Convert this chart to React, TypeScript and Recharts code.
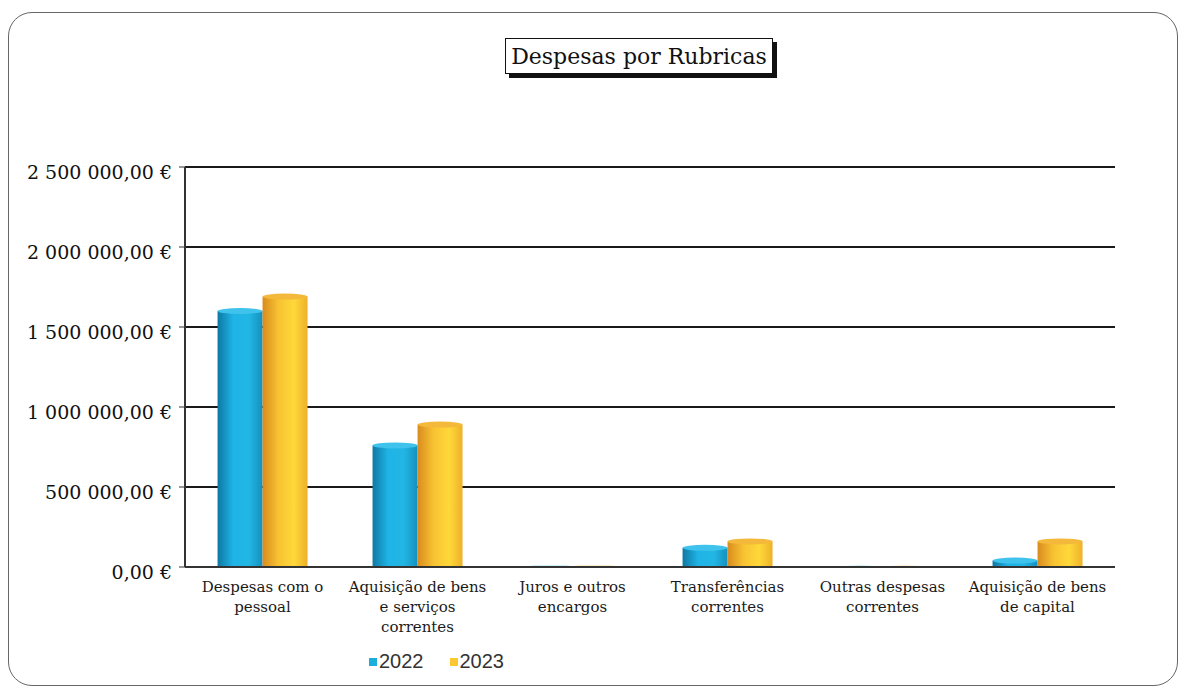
import React from "react";
import { BarChart, Bar, XAxis, YAxis, CartesianGrid } from "recharts";

const categories = [
  "Despesas com o\npessoal",
  "Aquisição de bens\ne serviços\ncorrentes",
  "Juros e outros\nencargos",
  "Transferências\ncorrentes",
  "Outras despesas\ncorrentes",
  "Aquisição de bens\nde capital",
];
const values2022 = [1600000, 760000, 5000, 120000, 4000, 40000];
const values2023 = [1690000, 890000, 5000, 160000, 4000, 160000];
const yTicks = [0, 500000, 1000000, 1500000, 2000000, 2500000];
const seriesNames = ["2022", "2023"];
const seriesColors = ["#1AAEDC", "#F9C833"];

const data = categories.map((c, i) => ({
  name: c,
  v2022: values2022[i],
  v2023: values2023[i],
}));

const fmt = (v: number) => {
  const s = v.toFixed(2).replace(".", ",");
  const [int, dec] = s.split(",");
  const withSp = int.replace(/\B(?=(\d{3})+(?!\d))/g, " ");
  return `${withSp},${dec} €`;
};

const CylShape = (props: any) => {
  const { x, y, width, height, fill, topFill } = props;
  if (height == null || width == null) return null;
  const ry = Math.min(3, Math.max(height / 2, 0.5));
  return (
    <g>
      <rect x={x} y={y} width={width} height={Math.max(height, 1.5)} fill={fill} />
      <ellipse cx={x + width / 2} cy={y} rx={width / 2} ry={ry} fill={topFill} />
    </g>
  );
};

const XTick = (props: any) => {
  const { x, y, payload } = props;
  const lines = String(payload.value).split("\n");
  return (
    <text
      x={x}
      y={y}
      textAnchor="middle"
      fontFamily="'DejaVu Serif', serif"
      fontSize={15}
      fill="#1a1a1a"
    >
      {lines.map((l, i) => (
        <tspan key={i} x={x} dy={i === 0 ? 17 : 20}>
          {l}
        </tspan>
      ))}
    </text>
  );
};

const YTick = (props: any) => {
  const { x, y, payload } = props;
  return (
    <text
      x={x}
      y={y + 12}
      textAnchor="end"
      fontFamily="'DejaVu Serif', serif"
      fontSize={19}
      fill="#111"
    >
      {fmt(payload.value)}
    </text>
  );
};

export default function App() {
  return (
    <div style={{ position: "absolute", left: 0, top: 0, width: 1185, height: 690, background: "#fff" }}>
      <div
        style={{
          position: "absolute",
          left: 8,
          top: 12,
          width: 1170,
          height: 674,
          border: "1.5px solid #666",
          borderRadius: 24,
          boxSizing: "border-box",
        }}
      />
      <div
        style={{
          position: "absolute",
          left: 505,
          top: 38,
          width: 268,
          height: 36,
          border: "1.5px solid #111",
          boxShadow: "4px 4px 0 #111",
          background: "#fff",
          fontFamily: "'DejaVu Serif', serif",
          fontSize: 22,
          color: "#111",
          display: "flex",
          alignItems: "center",
          justifyContent: "center",
          boxSizing: "border-box",
        }}
      >
        Despesas por Rubricas
      </div>
      <div style={{ position: "absolute", left: 0, top: 0 }}>
        <BarChart
          width={1185}
          height={690}
          data={data}
          margin={{ top: 167, right: 70, bottom: 0, left: 0 }}
          barCategoryGap="21%"
          barGap={0}
        >
          <defs>
            <linearGradient id="gBlue" x1="0" y1="0" x2="1" y2="0">
              <stop offset="0%" stopColor="#0E78A3" />
              <stop offset="35%" stopColor="#1FB4E6" />
              <stop offset="70%" stopColor="#22B6E4" />
              <stop offset="100%" stopColor="#1590BE" />
            </linearGradient>
            <linearGradient id="gYellow" x1="0" y1="0" x2="1" y2="0">
              <stop offset="0%" stopColor="#D98B1E" />
              <stop offset="35%" stopColor="#F7C232" />
              <stop offset="70%" stopColor="#FFD83A" />
              <stop offset="100%" stopColor="#EDB12A" />
            </linearGradient>
          </defs>
          <CartesianGrid yAxisId="l" vertical={false} stroke="#1a1a1a" strokeWidth={2} />
          <XAxis
            dataKey="name"
            tick={<XTick />}
            tickLine={false}
            axisLine={{ stroke: "#333", strokeWidth: 2 }}
            interval={0}
            height={123}
          />
          <YAxis
            yAxisId="l"
            domain={[0, 2500000]}
            ticks={yTicks}
            tick={<YTick />}
            tickSize={6}
            tickMargin={7}
            axisLine={{ stroke: "#333", strokeWidth: 2 }}
            tickLine={{ stroke: "#333" }}
            width={185}
          />
          <YAxis
            yAxisId="r"
            orientation="right"
            domain={[0, 2500000]}
            tick={false}
            tickLine={false}
            axisLine={{ stroke: "#333", strokeWidth: 2 }}
            width={0}
          />
          <Bar
            yAxisId="l"
            dataKey="v2022"
            name={seriesNames[0]}
            fill="url(#gBlue)"
            isAnimationActive={false}
            shape={(p: any) => <CylShape {...p} fill="url(#gBlue)" topFill="#3FC3EC" />}
          />
          <Bar
            yAxisId="l"
            dataKey="v2023"
            name={seriesNames[1]}
            fill="url(#gYellow)"
            isAnimationActive={false}
            shape={(p: any) => <CylShape {...p} fill="url(#gYellow)" topFill="#F4B83A" />}
          />
        </BarChart>
      </div>
      <div
        style={{
          position: "absolute",
          left: 369,
          top: 650,
          display: "flex",
          gap: 26,
          fontFamily: "'Liberation Sans', Arial, sans-serif",
          fontSize: 20,
          color: "#333",
        }}
      >
        {seriesNames.map((n, i) => (
          <span key={n} style={{ display: "flex", alignItems: "center" }}>
            <span style={{ width: 8, height: 8, background: seriesColors[i], marginRight: 2, display: "inline-block" }} />
            {n}
          </span>
        ))}
      </div>
    </div>
  );
}
